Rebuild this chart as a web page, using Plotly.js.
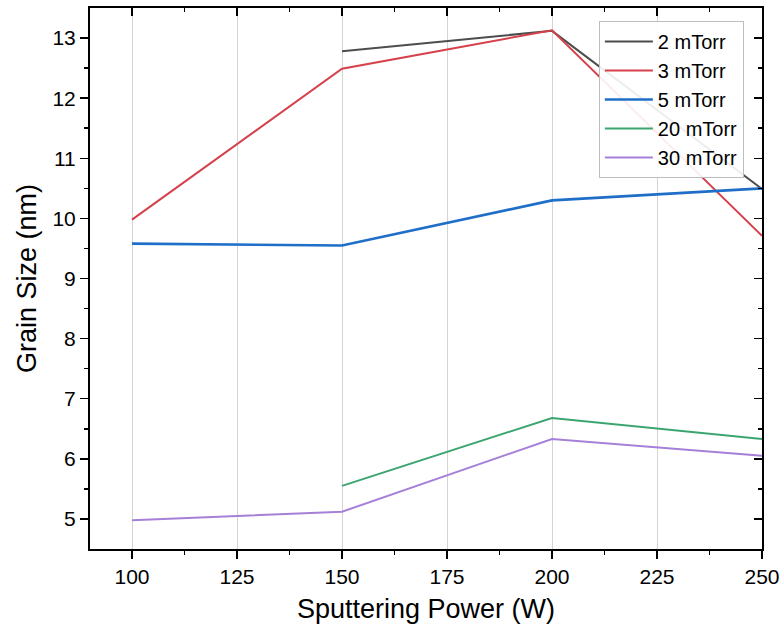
<!DOCTYPE html>
<html>
<head>
<meta charset="utf-8">
<script src="https://cdn.plot.ly/plotly-3.0.1.min.js"></script>
<style>html,body{margin:0;padding:0;background:#fff;}#chart{width:781px;height:637px;}</style>
</head>
<body>
<div id="chart"></div>
<script>
const power = [100, 150, 200, 250];
const names = ["2 mTorr", "3 mTorr", "5 mTorr", "20 mTorr", "30 mTorr"];
const g2 = [null, 12.78, 13.12, 10.49];
const g3 = [9.98, 12.49, 13.13, 9.71];
const g5 = [9.58, 9.55, 10.30, 10.50];
const g20 = [null, 5.55, 6.68, 6.33];
const g30 = [4.98, 5.12, 6.33, 6.05];
const xTicks = [100, 125, 150, 175, 200, 225, 250];
const xMinor = [112.5, 137.5, 162.5, 187.5, 212.5, 237.5];
const yTicks = [5, 6, 7, 8, 9, 10, 11, 12, 13];
const yMinor = [5.5, 6.5, 7.5, 8.5, 9.5, 10.5, 11.5, 12.5];
const colors = ["#4d4d4d", "#d6404a", "#1f6ec8", "#3aa56f", "#a680d8"];
const widths = [2, 2, 2.6, 2, 2];
const series = [g2, g3, g5, g20, g30];

const traces = series.map((ys, i) => ({
  x: power, y: ys, name: names[i], type: 'scatter', mode: 'lines',
  line: {color: colors[i], width: widths[i]}, connectgaps: false
}));
// invisible trace so mirrored inside-tick axes are drawn
traces.push({x: [power[0]], y: [g3[0]], xaxis: 'x2', yaxis: 'y2', showlegend: false, mode: 'markers', marker: {opacity: 0}, hoverinfo: 'skip'});

const fam = '"Liberation Sans", Arial, sans-serif';
const layout = {
  width: 781, height: 637,
  margin: {l: 90, r: 19, t: 8, b: 88},
  paper_bgcolor: '#fff', plot_bgcolor: '#fff',
  font: {family: fam, color: '#000'},
  showlegend: true,
  legend: {
    x: 0.973, y: 0.976, xanchor: 'right', yanchor: 'top',
    bordercolor: '#bdbdbd', borderwidth: 1, bgcolor: 'rgba(255,255,255,0.9)',
    font: {family: fam, size: 20, color: '#000'},
    tracegroupgap: 0, itemwidth: 48
  },
  xaxis: {
    range: [90, 250], tickvals: xTicks,
    ticks: 'outside', ticklen: 8, tickwidth: 1.5, tickcolor: '#000',
    minor: {tickvals: xMinor, ticks: 'outside', ticklen: 4, tickwidth: 1.5, tickcolor: '#000', showgrid: false},
    showline: true, linecolor: '#000', linewidth: 2,
    showgrid: true, gridcolor: '#d4d4d4', gridwidth: 1,
    zeroline: false,
    tickfont: {family: fam, size: 21, color: '#000'},
    title: {text: 'Sputtering Power (W)', font: {family: fam, size: 27, color: '#000'}, standoff: 12}
  },
  yaxis: {
    range: [4.5, 13.5], tickvals: yTicks,
    ticks: 'outside', ticklen: 8, tickwidth: 1.5, tickcolor: '#000',
    minor: {tickvals: yMinor, ticks: 'outside', ticklen: 4, tickwidth: 1.5, tickcolor: '#000', showgrid: false},
    showline: true, linecolor: '#000', linewidth: 2,
    showgrid: false, zeroline: false,
    tickfont: {family: fam, size: 21, color: '#000'},
    title: {text: 'Grain Size (nm)', font: {family: fam, size: 27, color: '#000'}, standoff: 8}
  },
  xaxis2: {
    overlaying: 'x', side: 'top', range: [90, 250], tickvals: xTicks,
    ticks: 'inside', ticklen: 8, tickwidth: 1.5, tickcolor: '#000',
    minor: {tickvals: xMinor, ticks: 'inside', ticklen: 4, tickwidth: 1.5, tickcolor: '#000'},
    showticklabels: false, showline: true, linecolor: '#000', linewidth: 2, showgrid: false, zeroline: false
  },
  yaxis2: {
    overlaying: 'y', side: 'right', range: [4.5, 13.5], tickvals: yTicks,
    ticks: 'inside', ticklen: 8, tickwidth: 1.5, tickcolor: '#000',
    minor: {tickvals: yMinor, ticks: 'inside', ticklen: 4, tickwidth: 1.5, tickcolor: '#000'},
    showticklabels: false, showline: true, linecolor: '#000', linewidth: 2, showgrid: false, zeroline: false
  }
};
Plotly.newPlot('chart', traces, layout, {displayModeBar: false, staticPlot: true});
</script>
</body>
</html>
